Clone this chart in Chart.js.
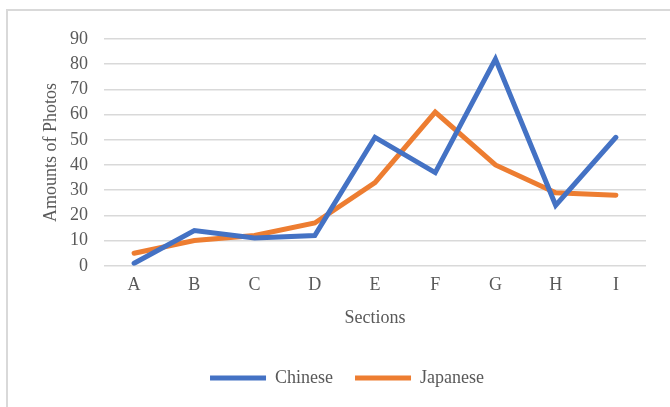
<!DOCTYPE html>
<html>
<head>
<meta charset="utf-8">
<script src="https://cdn.jsdelivr.net/npm/chart.js@4/dist/chart.umd.min.js"></script>
<style>
  html, body { margin: 0; padding: 0; background: #ffffff; overflow: hidden; }
  #frame {
    position: absolute; left: 6px; top: 9px; width: 720px; height: 440px;
    border: 2px solid #d9d9d9; box-sizing: border-box;
  }
  #wrap { position: absolute; left: 0; top: 0; width: 670px; height: 407px; }
</style>
</head>
<body>
<div id="frame"></div>
<div id="wrap"><canvas id="chart" width="670" height="407"></canvas></div>
<script>
// Sections along the x axis
const sections = ['A', 'B', 'C', 'D', 'E', 'F', 'G', 'H', 'I'];
// Photo counts per section
const chinese = [1, 14, 11, 12, 51, 37, 82, 24, 51];
const japanese = [5, 10, 12, 17, 33, 61, 40, 29, 28];
// Value axis range
const yMin = 0;
const yMax = 90;
const yStep = 10;

const textColor = '#595959';
const serif = "'Liberation Serif', 'Times New Roman', serif";

// Nudges the legend row sideways so it sits under the plot
const legendShift = {
  id: 'legendShift',
  afterLayout(chart) {
    const lg = chart.legend;
    if (lg) { lg.left += 4; lg.right += 4; }
  }
};

new Chart(document.getElementById('chart'), {
  type: 'line',
  data: {
    labels: sections,
    datasets: [
      {
        label: 'Chinese',
        data: chinese,
        borderColor: '#4472C4',
        backgroundColor: '#4472C4',
        borderWidth: 5,
        borderCapStyle: 'round',
        borderJoinStyle: 'miter',
        pointRadius: 0,
        tension: 0
      },
      {
        label: 'Japanese',
        data: japanese,
        borderColor: '#ED7D31',
        backgroundColor: '#ED7D31',
        borderWidth: 5,
        borderCapStyle: 'round',
        borderJoinStyle: 'miter',
        pointRadius: 0,
        tension: 0
      }
    ]
  },
  options: {
    responsive: false,
    animation: false,
    events: [],
    layout: { padding: { left: 40, right: 24, top: 39, bottom: 10 } },
    plugins: {
      tooltip: { enabled: false },
      legend: {
        position: 'bottom',
        labels: {
          color: textColor,
          font: { family: serif, size: 18 },
          boxWidth: 56,
          boxHeight: 5,
          useBorderRadius: true,
          borderRadius: 2.5,
          padding: 22,
          generateLabels(chart) {
            return chart.data.datasets.map((ds, i) => ({
              text: ds.label,
              fillStyle: ds.borderColor,
              strokeStyle: ds.borderColor,
              lineWidth: 0,
              fontColor: textColor,
              datasetIndex: i,
              hidden: false
            }));
          }
        }
      }
    },
    scales: {
      x: {
        offset: true,
        grid: { display: false, drawTicks: false, offset: true },
        border: { display: false },
        ticks: { color: textColor, font: { family: serif, size: 18 }, padding: 9 },
        title: {
          display: true,
          text: 'Sections',
          color: textColor,
          font: { family: serif, size: 18 },
          padding: { top: 2, bottom: 18 }
        }
      },
      y: {
        min: yMin,
        max: yMax,
        grid: { color: '#d9d9d9', lineWidth: 1.5, drawTicks: false },
        border: { display: false },
        ticks: {
          stepSize: yStep,
          autoSkip: false,
          color: textColor,
          font: { family: serif, size: 18 },
          padding: 16
        },
        title: {
          display: true,
          text: 'Amounts of Photos',
          color: textColor,
          font: { family: serif, size: 18 },
          padding: { top: 0, bottom: 0 }
        },
        afterFit(scale) { scale.width = 64; }
      }
    }
  },
  plugins: [legendShift]
});
</script>
</body>
</html>
